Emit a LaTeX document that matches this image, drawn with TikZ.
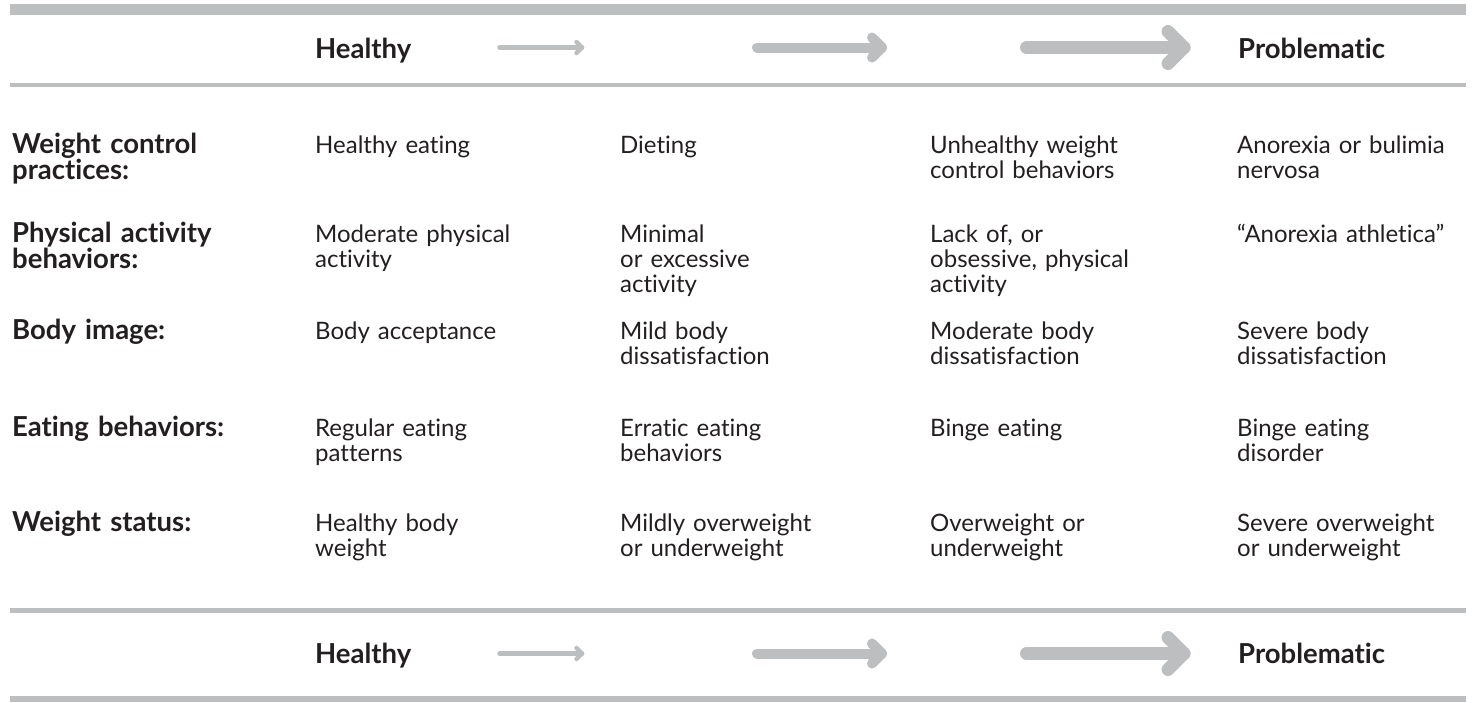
\documentclass[tikz,border=0pt]{standalone}
\usepackage{fontspec}
\setmainfont{Lato}[Ligatures={NoCommon}]
\definecolor{rulegray}{RGB}{188,190,192}
\definecolor{ink}{RGB}{35,31,32}
\begin{document}
\begin{tikzpicture}[x=1pt,y=-1pt,
  cell/.style={anchor=base west, inner sep=0pt, text width=300pt, align=left,
    font=\fontsize{24}{25}\selectfont, text=ink},
  lab/.style={cell, font=\fontsize{27.5}{24}\selectfont\bfseries},
  head/.style={anchor=base west, inner sep=0pt, font=\fontsize{27.5}{25}\selectfont\bfseries, text=ink},
  rulebar/.style={fill=rulegray, draw=none},
  thinarrow/.style={draw=rulegray, line width=4.5pt, line cap=round, line join=round},
  midarrow/.style={draw=rulegray, line width=10pt, line cap=round, line join=round},
  fatarrow/.style={draw=rulegray, line width=13pt, line cap=round, line join=round}]
\useasboundingbox (0,0) rectangle (1472,702);

% rules
\fill[rulebar] (10,4) rectangle (1466,15);
\fill[rulebar] (10,83) rectangle (1466,87);
\fill[rulebar] (10,608) rectangle (1466,613);
\fill[rulebar] (10,696) rectangle (1466,702);

% header rows
\foreach \yy/\nm in {58/top,663/bot}{
  \node[head] (healthy\nm) at (315,\yy) {Healthy};
  \node[head] (problem\nm) at (1238,\yy) {Problematic};
}
\foreach \yy/\nm in {47.5/top,653.5/bot}{
  \coordinate (a1s\nm) at (499.5,\yy);
  \coordinate (a1e\nm) at (582,\yy);
  \draw[thinarrow] (a1s\nm) -- (a1e\nm);
  \draw[thinarrow] ([shift={(-5.5,-5.5)}]a1e\nm) -- (a1e\nm) -- ([shift={(-5.5,5.5)}]a1e\nm);
  \coordinate (a2s\nm) at (757,\yy);
  \coordinate (a2e\nm) at (882,\yy);
  \draw[midarrow] (a2s\nm) -- (a2e\nm);
  \draw[midarrow] ([shift={(-10,-10)}]a2e\nm) -- (a2e\nm) -- ([shift={(-10,10)}]a2e\nm);
  \coordinate (a3s\nm) at (1026.5,\yy);
  \coordinate (a3e\nm) at (1184,\yy);
  \draw[fatarrow] (a3s\nm) -- (a3e\nm);
  \draw[fatarrow] ([shift={(-16,-16)}]a3e\nm) -- (a3e\nm) -- ([shift={(-16,16)}]a3e\nm);
}

% row 1
\node[lab]  (l1) at (12,153)   {Weight control\\practices:};
\node[cell] (c11) at (315,153) {Healthy eating};
\node[cell] (c12) at (620,153) {Dieting};
\node[cell] (c13) at (930,153) {Unhealthy weight\\control behaviors};
\node[cell] (c14) at (1237,153) {Anorexia or bulimia\\nervosa};
% row 2
\node[lab]  (l2) at (12,242)   {Physical activity\\behaviors:};
\node[cell] (c21) at (315,242) {Moderate physical\\activity};
\node[cell] (c22) at (620,242) {Minimal\\or excessive\\activity};
\node[cell] (c23) at (930,242) {Lack of, or\\obsessive, physical\\activity};
\node[cell] (c24) at (1237,242) {“Anorexia athletica”};
% row 3
\node[lab]  (l3) at (12,339)   {Body image:};
\node[cell] (c31) at (315,339) {Body acceptance};
\node[cell] (c32) at (620,339) {Mild body\\dissatisfaction};
\node[cell] (c33) at (930,339) {Moderate body\\dissatisfaction};
\node[cell] (c34) at (1237,339) {Severe body\\dissatisfaction};
% row 4
\node[lab]  (l4) at (12,436)   {Eating behaviors:};
\node[cell] (c41) at (315,436) {Regular eating\\patterns};
\node[cell] (c42) at (620,436) {Erratic eating\\behaviors};
\node[cell] (c43) at (930,436) {Binge eating};
\node[cell] (c44) at (1237,436) {Binge eating\\disorder};
% row 5
\node[lab]  (l5) at (12,531)   {Weight status:};
\node[cell] (c51) at (315,531) {Healthy body\\weight};
\node[cell] (c52) at (620,531) {Mildly overweight\\or underweight};
\node[cell] (c53) at (930,531) {Overweight or\\underweight};
\node[cell] (c54) at (1237,531) {Severe overweight\\or underweight};
\end{tikzpicture}
\end{document}
